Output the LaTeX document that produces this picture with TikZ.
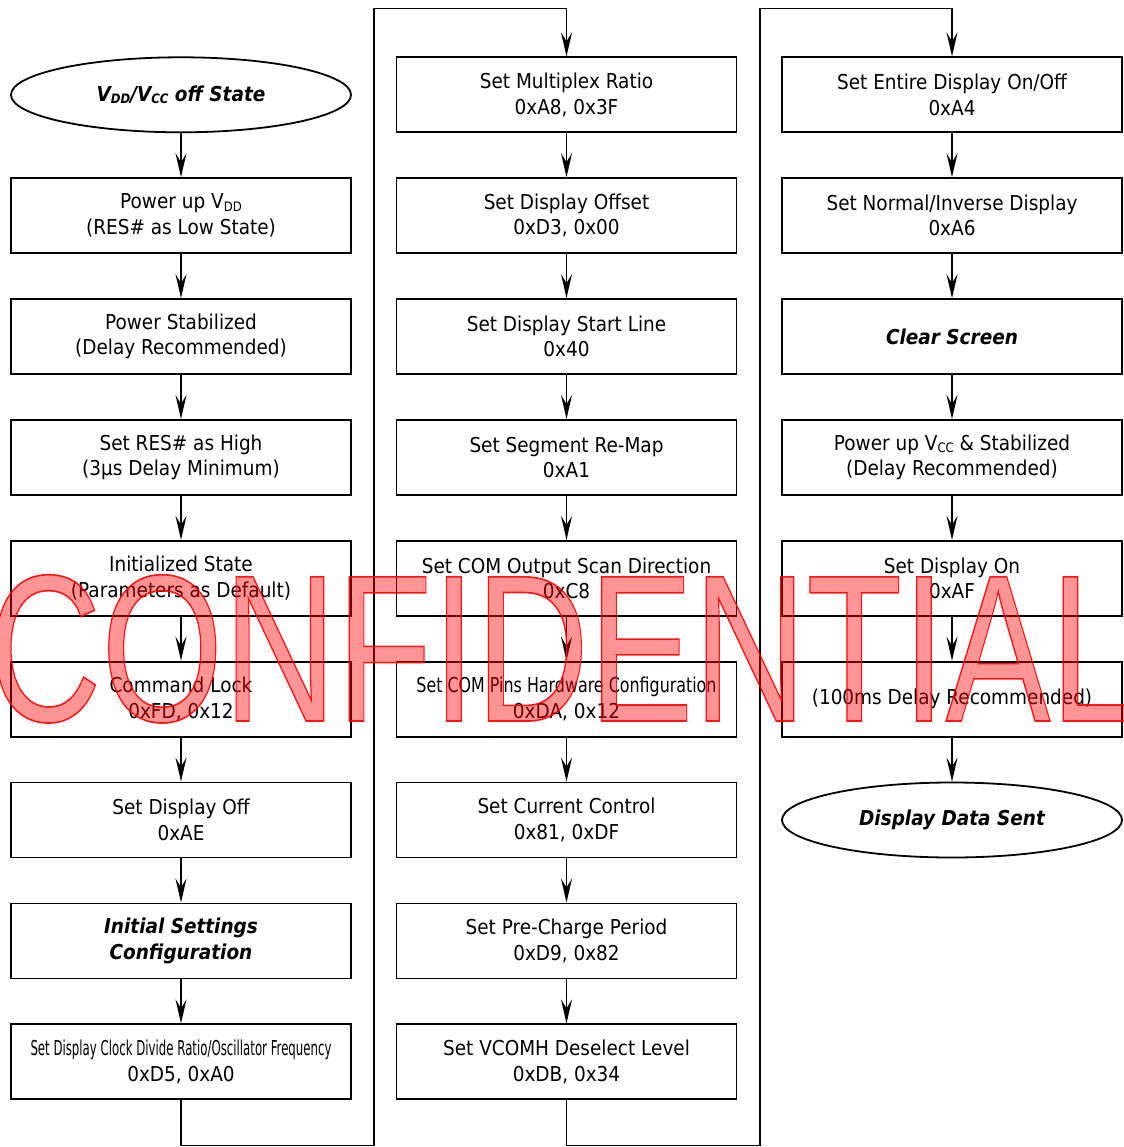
\documentclass[tikz,border=0pt]{standalone}
\usepackage{fontspec}
\usepackage{graphicx}
\setmainfont{DejaVu Sans}[FakeStretch=0.9]
\newfontfamily\wmfont{Liberation Sans}
\usetikzlibrary{shapes.geometric,arrows.meta}
\newcommand\sub[1]{\raisebox{-2.5pt}{\fontsize{13}{13}\selectfont #1}}
\newcommand\wmtext{\scalebox{0.748}[1]{CONFIDENTIAL}}
\begin{document}
\begin{tikzpicture}[x=1pt,y=-1pt,
 box/.style={draw, line width=1.8pt, minimum width=340pt, minimum height=75pt, align=center, inner sep=0pt, font=\fontsize{20.5}{25.5}\selectfont},
 oval/.style={box, ellipse},
 bi/.style={font=\fontsize{20.5}{26}\selectfont\bfseries\itshape},
 con/.style={line width=1.8pt, -{Stealth[length=24pt,width=11pt,inset=9pt]}},
 wm/.style={anchor=base west, inner sep=0pt, text=red, font=\wmfont\fontsize{209.5}{210}\selectfont}
]
\useasboundingbox (0,0) rectangle (1123,1147);
% column 1
\node[oval,bi] (a1) at (181,94.8) {V\sub{DD}/V\sub{CC} off State};
\node[box] (a2) at (181,215.6) {Power up V\sub{DD}\\(RES\# as Low State)};
\node[box] (a3) at (181,336.5) {Power Stabilized\\(Delay Recommended)};
\node[box] (a4) at (181,457.4) {Set RES\# as High\\(3μs Delay Minimum)};
\node[box] (a5) at (181,578.3) {Initialized State\\(Parameters as Default)};
\node[box] (a6) at (181,699.1) {Command Lock\\0xFD, 0x12};
\node[box] (a7) at (181,820) {Set Display Off\\0xAE};
\node[box,bi] (a8) at (181,940.9) {Initial Settings\\Configuration};
\node[box] (a9) at (181,1061.8) {\resizebox{301pt}{\height}{Set Display Clock Divide Ratio/Oscillator Frequency}\\0xD5, 0xA0};
% column 2
\node[box] (b1) at (566.5,94.8) {Set Multiplex Ratio\\0xA8, 0x3F};
\node[box] (b2) at (566.5,215.6) {Set Display Offset\\0xD3, 0x00};
\node[box] (b3) at (566.5,336.5) {Set Display Start Line\\0x40};
\node[box] (b4) at (566.5,457.4) {Set Segment Re-Map\\0xA1};
\node[box] (b5) at (566.5,578.3) {Set COM Output Scan Direction\\0xC8};
\node[box] (b6) at (566.5,699.1) {\resizebox{300pt}{\height}{Set COM Pins Hardware Configuration}\\0xDA, 0x12};
\node[box] (b7) at (566.5,820) {Set Current Control\\0x81, 0xDF};
\node[box] (b8) at (566.5,940.9) {Set Pre-Charge Period\\0xD9, 0x82};
\node[box] (b9) at (566.5,1061.8) {Set VCOMH Deselect Level\\0xDB, 0x34};
% column 3
\node[box] (c1) at (952,94.8) {Set Entire Display On/Off\\0xA4};
\node[box] (c2) at (952,215.6) {Set Normal/Inverse Display\\0xA6};
\node[box,bi] (c3) at (952,336.5) {Clear Screen};
\node[box] (c4) at (952,457.4) {Power up V\sub{CC} \& Stabilized\\(Delay Recommended)};
\node[box] (c5) at (952,578.3) {Set Display On\\0xAF};
\node[box] (c6) at (952,699.1) {(100ms Delay Recommended)};
\node[oval,bi] (c7) at (952,820) {Display Data Sent};
% arrows within columns
\foreach \p/\q in {a1/a2,a2/a3,a3/a4,a4/a5,a5/a6,a6/a7,a7/a8,a8/a9,
                   b1/b2,b2/b3,b3/b4,b4/b5,b5/b6,b6/b7,b7/b8,b8/b9,
                   c1/c2,c2/c3,c3/c4,c4/c5,c5/c6,c6/c7}
  \draw[con] (\p.south) -- (\q.north);
% column links
\coordinate (j1) at (374,1145.5);
\coordinate (j2) at (374,8.5);
\coordinate (k1) at (760,1145.5);
\coordinate (k2) at (760,8.5);
\draw[con] (a9.south) |- (j1) -- (j2) -| (b1.north);
\draw[con] (b9.south) |- (k1) -- (k2) -| (c1.north);
% watermark: translucent fill plus outline
\node[wm, text opacity=0.42] (w) at (-12,721) {\wmtext};
\node[wm, opacity=0.9] (w2) at (-12,721) {\special{pdf:literal direct 1 Tr 1.6 w 1 0 0 RG}\wmtext\special{pdf:literal direct 0 Tr}};
\end{tikzpicture}
\end{document}
